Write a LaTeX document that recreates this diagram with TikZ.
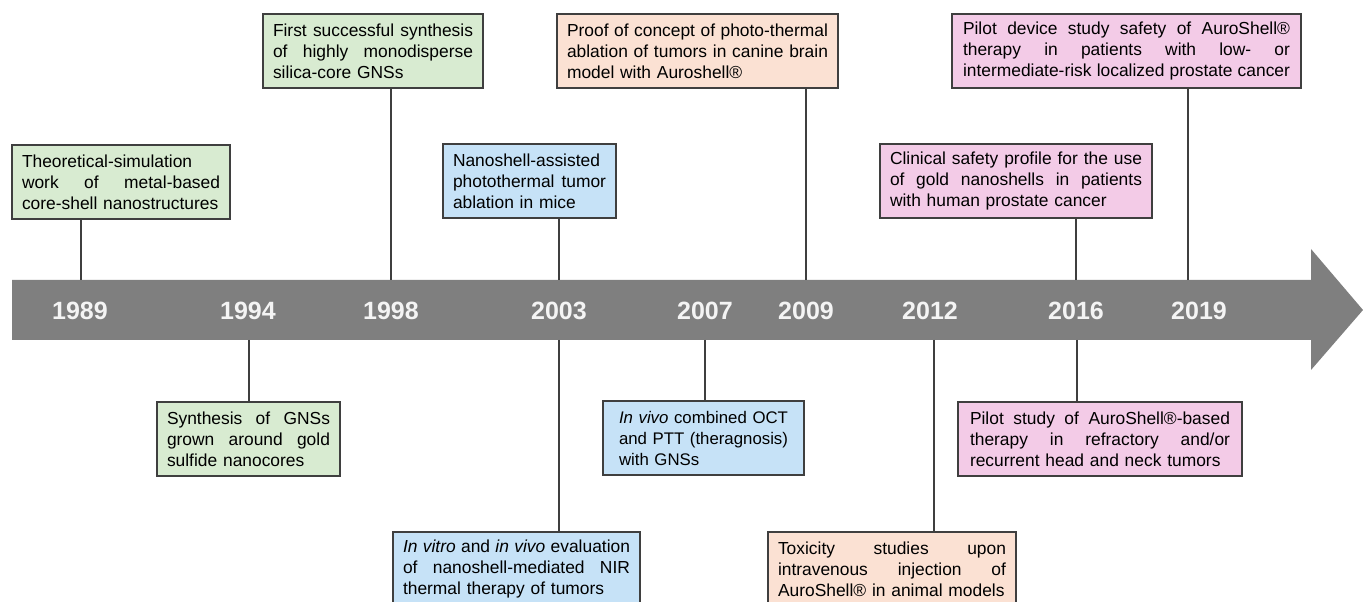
\documentclass[tikz,border=0pt]{standalone}
\usepackage{fontspec}
\setmainfont{Liberation Sans}
\definecolor{bxgreen}{HTML}{D8EBD1}
\definecolor{bxblue}{HTML}{C6E2F7}
\definecolor{bxpeach}{HTML}{FBE1D3}
\definecolor{bxpink}{HTML}{F3CBE7}
\definecolor{arrowgray}{HTML}{7F7F7F}
\definecolor{linegray}{HTML}{3F3F3F}
\definecolor{yeartext}{HTML}{F4F4F4}
% justified line: words separated by \jg
\newcommand{\jl}[1]{\hbox to\hsize{#1}\par}
\newcommand{\fl}[1]{\hbox to\hsize{#1\hfil}\par}
\newcommand{\jg}{\hskip 0.24em plus 1fil\relax}
\newcommand{\boxfont}{\fontsize{17.4}{21}\selectfont\spaceskip 0.24em plus 0.8em minus 0.06em\relax}
\newcommand{\boxfontsmall}{\fontsize{16.8}{21}\selectfont\spaceskip 0.24em plus 0.8em minus 0.06em\relax}
\tikzset{
  evbox/.style={draw=linegray, line width=1.2pt, anchor=north west, align=left,
    minimum height=74pt, inner ysep=0pt, outer sep=0pt,
    font=\boxfont, text=black},
  smallfont/.style={font=\boxfontsmall},
  conn/.style={draw=linegray, line width=1.3pt},
  yearlbl/.style={text=yeartext, font=\fontsize{25}{30}\selectfont\bfseries, inner sep=0pt}
}
\begin{document}
\begin{tikzpicture}[x=1pt,y=1pt]
\useasboundingbox (0,0) rectangle (1363,602);
\clip (0,0) rectangle (1363,602);
% timeline arrow
\fill[arrowgray] (12,322) -- (1311,322) -- (1311,353) -- (1363,292) -- (1311,232) -- (1311,262) -- (12,262) -- cycle;
% anchor points on the arrow edges
\coordinate (u1989) at (81,322);
\coordinate (d1994) at (249,262);
\coordinate (u1998) at (391,322);
\coordinate (u2003) at (559,322);
\coordinate (d2003) at (559,262);
\coordinate (d2007) at (705,262);
\coordinate (u2009) at (806,322);
\coordinate (d2012) at (934,262);
\coordinate (u2016) at (1076,322);
\coordinate (d2016) at (1077,262);
\coordinate (u2019) at (1188,322);
% years
\node[yearlbl] (y1989) at (80,291) {1989};
\node[yearlbl] (y1994) at (248,291) {1994};
\node[yearlbl] (y1998) at (391,291) {1998};
\node[yearlbl] (y2003) at (559,291) {2003};
\node[yearlbl] (y2007) at (705,291) {2007};
\node[yearlbl] (y2009) at (806,291) {2009};
\node[yearlbl] (y2012) at (930,291) {2012};
\node[yearlbl] (y2016) at (1076,291) {2016};
\node[yearlbl] (y2019) at (1199,291) {2019};
% boxes
\node[evbox, fill=bxgreen, text width=198pt, inner xsep=10pt] (b1989) at (12,457)
  {\fl{Theoretical-simulation}\jl{work\jg of\jg metal-based}\fl{core-shell nanostructures}};
\node[evbox, fill=bxgreen, text width=200pt, inner xsep=10pt] (b1998) at (263,588)
  {\jl{First\jg successful\jg synthesis}\jl{of\jg highly\jg monodisperse}\fl{silica-core GNSs}};
\node[evbox, fill=bxgreen, text width=163pt, inner xsep=10pt] (b1994) at (157,200)
  {\jl{Synthesis\jg of\jg GNSs}\jl{grown\jg around\jg gold}\fl{sulfide nanocores}};
\node[evbox, fill=bxblue, text width=153pt, inner xsep=10pt] (b2003u) at (443,458)
  {\fl{Nanoshell-assisted}\jl{photothermal\jg tumor}\fl{ablation in mice}};
\node[evbox, fill=bxpeach, text width=261pt, inner xsep=10pt] (b2009) at (557,588)
  {\jl{Proof\jg of\jg concept\jg of\jg photo-thermal}\jl{ablation\jg of\jg tumors\jg in\jg canine\jg brain}\fl{model with Auroshell®}};
\node[evbox, fill=bxblue, text width=227pt, inner xsep=10pt] (b2003d) at (393,70)
  {\jl{\textit{In\jg vitro}\jg and\jg \textit{in\jg vivo}\jg evaluation}\jl{of\jg nanoshell-mediated\jg NIR}\fl{thermal therapy of tumors}};
\node[evbox, smallfont, fill=bxblue, text width=169pt, inner xsep=16pt] (b2007) at (603,201)
  {\jl{\textit{In\jg vivo}\jg combined\jg OCT}\jl{and\jg PTT\jg (theragnosis)}\fl{with GNSs}};
\node[evbox, fill=bxpeach, text width=228pt, inner xsep=10pt] (b2012) at (768,70)
  {\jl{Toxicity\jg studies\jg upon}\jl{intravenous\jg injection\jg of}\fl{AuroShell® in animal models}};
\node[evbox, fill=bxpink, text width=252pt, inner xsep=10pt] (b2016u) at (880,458)
  {\jl{Clinical\jg safety\jg profile\jg for\jg the\jg use}\jl{of\jg gold\jg nanoshells\jg in\jg patients}\fl{with human prostate cancer}};
\node[evbox, fill=bxpink, text width=327pt, inner xsep=11pt] (b2019) at (952,588)
  {\jl{Pilot\jg device\jg study\jg safety\jg of\jg AuroShell®}\jl{therapy\jg in\jg patients\jg with\jg low-\jg or}\jl{intermediate-risk\jg localized\jg prostate\jg cancer}};
\node[evbox, fill=bxpink, text width=260pt, inner xsep=12pt] (b2016d) at (958,200)
  {\jl{Pilot\jg study\jg of\jg AuroShell®-based}\jl{therapy\jg in\jg refractory\jg and/or}\fl{recurrent head and neck tumors}};
% connectors
\draw[conn] (u1989) -- (b1989.south -| u1989);
\draw[conn] (d1994) -- (b1994.north -| d1994);
\draw[conn] (u1998) -- (b1998.south -| u1998);
\draw[conn] (u2003) -- (b2003u.south -| u2003);
\draw[conn] (d2003) -- (b2003d.north -| d2003);
\draw[conn] (d2007) -- (b2007.north -| d2007);
\draw[conn] (u2009) -- (b2009.south -| u2009);
\draw[conn] (d2012) -- (b2012.north -| d2012);
\draw[conn] (u2016) -- (b2016u.south -| u2016);
\draw[conn] (d2016) -- (b2016d.north -| d2016);
\draw[conn] (u2019) -- (b2019.south -| u2019);
\end{tikzpicture}
\end{document}
